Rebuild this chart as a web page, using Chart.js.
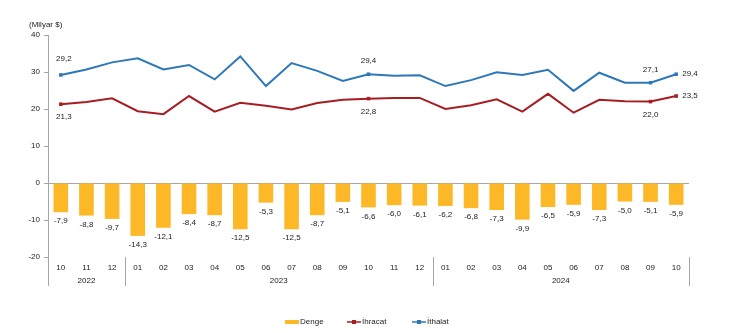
<!DOCTYPE html>
<html>
<head>
<meta charset="utf-8">
<script src="https://cdn.jsdelivr.net/npm/chart.js@4.4.1/dist/chart.umd.min.js"></script>
<style>
    html, body { margin: 0; padding: 0; background: #fff; }
    #wrap { width: 730px; height: 333px; }
</style>
</head>
<body>
<div id="wrap"><canvas id="chart" width="730" height="333"></canvas></div>
<script>
// Datos (Milyar $)
const months = ['10', '11', '12', '01', '02', '03', '04', '05', '06', '07', '08', '09', '10', '11', '12',
                '01', '02', '03', '04', '05', '06', '07', '08', '09', '10'];
const years = ['2022', '2023', '2024'];
const yearStart = [0, 3, 15];
const denge = [-7.9, -8.8, -9.7, -14.3, -12.1, -8.4, -8.7, -12.5, -5.3, -12.5, -8.7, -5.1, -6.6, -6.0, -6.1,
               -6.2, -6.8, -7.3, -9.9, -6.5, -5.9, -7.3, -5.0, -5.1, -5.9];
const ihracat = [21.3, 21.9, 22.9, 19.4, 18.6, 23.5, 19.3, 21.7, 20.9, 19.9, 21.6, 22.5, 22.8, 23.0, 23.0,
                 20.0, 21.0, 22.6, 19.3, 24.1, 19.0, 22.5, 22.1, 22.0, 23.5];
const ithalat = [29.2, 30.7, 32.6, 33.7, 30.7, 31.9, 28.0, 34.2, 26.2, 32.4, 30.3, 27.6, 29.4, 29.0, 29.1,
                 26.2, 27.8, 29.9, 29.2, 30.6, 24.9, 29.8, 27.1, 27.1, 29.4];
const yTicks = [-20, -10, 0, 10, 20, 30, 40];
const markedPoints = [0, 12, 23, 24];

const FONT = 'Liberation Sans, Arial, sans-serif';
const TEXT = '#222222';
const COL_DENGE = '#FCB827';
const COL_IHR = '#A51E23';
const COL_ITH = '#2E78B8';

function fmt(v) {
    return v.toFixed(1).replace('.', ',');
}

// Plugin para etiquetas, años, separadores y leyenda
const decorPlugin = {
    id: 'decor',
    afterDatasetsDraw(chart) {
        const ctx = chart.ctx;
        ctx.save();
        ctx.font = '8px ' + FONT;
        ctx.fillStyle = TEXT;
        ctx.textAlign = 'center';
        ctx.textBaseline = 'middle';

        // Etiquetas de barras
        const barMeta = chart.getDatasetMeta(0);
        barMeta.data.forEach((bar, i) => {
            ctx.fillText(fmt(denge[i]), bar.x, bar.y + 9);
        });

        // Etiquetas de líneas
        const ihrMeta = chart.getDatasetMeta(1);
        const ithMeta = chart.getDatasetMeta(2);
        markedPoints.forEach(i => {
            const pI = ihrMeta.data[i];
            const pT = ithMeta.data[i];
            if (i === months.length - 1) {
                ctx.textAlign = 'left';
                ctx.fillText(fmt(ithalat[i]), pT.x + 6, pT.y);
                ctx.fillText(fmt(ihracat[i]), pI.x + 6, pI.y);
                ctx.textAlign = 'center';
            } else {
                const dx = i === 0 ? 3 : 0;
                ctx.fillText(fmt(ithalat[i]), pT.x + dx, pT.y - (i === 0 ? 16 : 13));
                ctx.fillText(fmt(ihracat[i]), pI.x + dx, pI.y + 13);
            }
        });
        ctx.restore();
    },
    afterDraw(chart) {
        const ctx = chart.ctx;
        const area = chart.chartArea;
        const x = chart.scales.x;
        const step = x.getPixelForValue(1) - x.getPixelForValue(0);
        ctx.save();

        // Separadores verticales
        ctx.strokeStyle = '#a6a6a6';
        ctx.lineWidth = 1;
        const bounds = [area.left];
        yearStart.slice(1).forEach(s => bounds.push(x.getPixelForValue(s) - step / 2));
        bounds.push(area.right);
        bounds.forEach(bx => {
            const px = Math.round(bx) + 0.5;
            ctx.beginPath();
            ctx.moveTo(px, area.bottom);
            ctx.lineTo(px, area.bottom + 29);
            ctx.stroke();
        });

        // Años
        ctx.font = '8px ' + FONT;
        ctx.fillStyle = TEXT;
        ctx.textAlign = 'center';
        ctx.textBaseline = 'middle';
        years.forEach((y, k) => {
            ctx.fillText(y, (bounds[k] + bounds[k + 1]) / 2, area.bottom + 24);
        });

        // Unidad
        ctx.textAlign = 'left';
        ctx.fillText('(Milyar $)', 29, 25);

        // Leyenda
        const ly = 322;
        ctx.fillStyle = COL_DENGE;
        ctx.fillRect(285, ly - 2, 14, 4);
        ctx.fillStyle = TEXT;
        ctx.fillText('Denge', 300, ly);

        [[COL_IHR, 'İhracat', 347], [COL_ITH, 'İthalat', 412]].forEach(([c, t, lx]) => {
            ctx.strokeStyle = c;
            ctx.lineWidth = 1.5;
            ctx.beginPath();
            ctx.moveTo(lx, ly);
            ctx.lineTo(lx + 14, ly);
            ctx.stroke();
            ctx.fillStyle = c;
            ctx.fillRect(lx + 5, ly - 2, 4, 4);
            ctx.fillStyle = TEXT;
            ctx.fillText(t, lx + 15, ly);
        });
        ctx.restore();
    }
};

function pointSizes() {
    return months.map((m, i) => markedPoints.includes(i) ? 2.5 : 0);
}

function initChart() {
    const ctx = document.getElementById('chart').getContext('2d');
    new Chart(ctx, {
        data: {
            labels: months,
            datasets: [
                {
                    type: 'bar',
                    label: 'Denge',
                    data: denge,
                    backgroundColor: COL_DENGE,
                    barPercentage: 0.57,
                    categoryPercentage: 1,
                    order: 2
                },
                {
                    type: 'line',
                    label: 'İhracat',
                    data: ihracat,
                    borderColor: COL_IHR,
                    backgroundColor: COL_IHR,
                    borderWidth: 2,
                    pointStyle: 'rect',
                    pointRadius: pointSizes(),
                    pointBorderWidth: 0,
                    tension: 0,
                    order: 1
                },
                {
                    type: 'line',
                    label: 'İthalat',
                    data: ithalat,
                    borderColor: COL_ITH,
                    backgroundColor: COL_ITH,
                    borderWidth: 2,
                    pointStyle: 'rect',
                    pointRadius: pointSizes(),
                    pointBorderWidth: 0,
                    tension: 0,
                    order: 0
                }
            ]
        },
        options: {
            responsive: false,
            animation: false,
            layout: { padding: { left: 0, right: 41, top: 35, bottom: 0 } },
            plugins: {
                legend: { display: false },
                tooltip: { enabled: false }
            },
            scales: {
                x: {
                    offset: true,
                    grid: { display: false, drawTicks: false },
                    border: { display: false },
                    ticks: {
                        color: TEXT,
                        font: { family: FONT, size: 8 },
                        padding: 6,
                        maxRotation: 0,
                        autoSkip: false
                    },
                    afterFit(scale) { scale.height = 76; }
                },
                y: {
                    min: -20,
                    max: 40,
                    afterBuildTicks(scale) {
                        scale.ticks = yTicks.map(v => ({ value: v }));
                    },
                    grid: {
                        drawOnChartArea: true,
                        drawTicks: true,
                        tickLength: 4,
                        tickColor: '#a6a6a6',
                        color: c => c.tick && c.tick.value === 0 ? '#a6a6a6' : 'rgba(0,0,0,0)'
                    },
                    border: { display: true, color: '#a6a6a6' },
                    ticks: {
                        color: TEXT,
                        font: { family: FONT, size: 8 },
                        padding: 4
                    },
                    afterFit(scale) { scale.width = 48; }
                }
            }
        },
        plugins: [decorPlugin]
    });
}

document.addEventListener('DOMContentLoaded', initChart);
</script>
</body>
</html>
